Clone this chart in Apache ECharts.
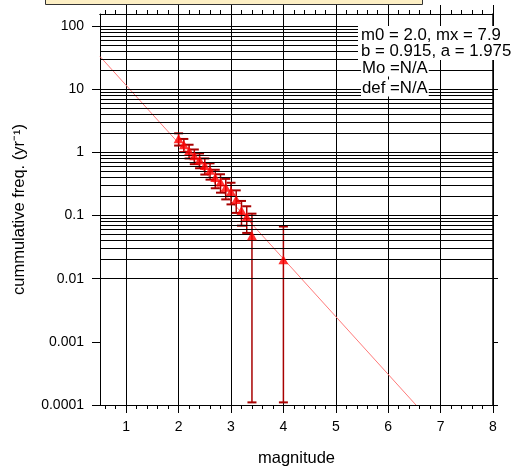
<!DOCTYPE html>
<html>
<head>
<meta charset="utf-8">
<script src="https://cdn.jsdelivr.net/npm/echarts@6/dist/echarts.min.js"></script>
<style>
  html, body { margin: 0; padding: 0; background: #fff; }
  #chart { width: 514px; height: 468px; }
</style>
</head>
<body>
<div id="chart"></div>
<script>
// Gutenberg-Richter cumulative frequency plot
const magnitudes = [2.0, 2.1, 2.2, 2.3, 2.4, 2.5, 2.6, 2.7, 2.8, 2.9, 3.0, 3.1, 3.2, 3.3, 3.4, 4.0];
const cumFreq    = [1.64, 1.32, 1.06, 0.88, 0.76, 0.62, 0.52, 0.40, 0.34, 0.28, 0.24, 0.18, 0.12, 0.096, 0.048, 0.02];
const errLow     = [1.28, 1.01, 0.80, 0.65, 0.56, 0.445, 0.37, 0.27, 0.23, 0.18, 0.15, 0.11, 0.069, 0.053, 0.00011, 0.00011];
const errHigh    = [2.00, 1.63, 1.32, 1.11, 0.96, 0.80, 0.67, 0.53, 0.45, 0.38, 0.33, 0.25, 0.17, 0.14, 0.107, 0.067];

// fit parameters (log10 N = a - b M)
const bValue = 0.915;
const aValue = 1.975;
const legendLines = ['m0 = 2.0, mx = 7.9', 'b = 0.915, a = 1.975', 'Mo =N/A', 'def =N/A'];

const xTicks = [1, 2, 3, 4, 5, 6, 7, 8];
const yTicks = [0.0001, 0.001, 0.01, 0.1, 1, 10, 100];
const yTickLabels = ['0.0001', '0.001', '0.01', '0.1', '1', '10', '100'];

const X_MIN = 0.5, X_MAX = 8;
const Y_MIN = 0.0001, Y_MAX = 155;

// minor x ticks every 0.2 between the labelled ones
const xMinorTicks = [];
for (let i = 3; i <= 39; i++) {
  const v = +(i * 0.2).toFixed(1);
  if (v > X_MIN && v < X_MAX && Math.abs(v - Math.round(v)) > 1e-9) xMinorTicks.push(v);
}

// log grid lines: 1..9 x each decade
const gridValues = [];
for (let k = -4; k <= 1; k++) {
  for (let j = 1; j <= 9; j++) gridValues.push(+(j * Math.pow(10, k)).toPrecision(3));
}
gridValues.push(100);

const FONT = '"Liberation Sans", Arial, Helvetica, sans-serif';

// fitted line from the stated a and b, clipped at the bottom of the axis
const fitStart = X_MIN;
const fitEnd = (aValue - Math.log10(Y_MIN)) / bValue;
const fitLine = [
  [fitStart, Math.pow(10, aValue - bValue * fitStart)],
  [fitEnd, Math.pow(10, aValue - bValue * fitEnd)]
];

const chart = echarts.init(document.getElementById('chart'), null, { renderer: 'canvas' });

function xAxisDef(position, ticks, len, extra) {
  return Object.assign({
    type: 'value',
    min: X_MIN,
    max: X_MAX,
    interval: 1,
    position: position,
    axisLine: { show: true, onZero: false, lineStyle: { color: '#000', width: 1 } },
    axisTick: { show: true, length: len, customValues: ticks, lineStyle: { color: '#000' } },
    axisLabel: { show: false },
    splitLine: { show: false },
    minorTick: { show: false }
  }, extra || {});
}

const option = {
  animation: false,
  backgroundColor: '#fff',
  grid: { left: 100, top: 14, right: 21, bottom: 63, containLabel: false, outerBoundsMode: 'none' },
  xAxis: [
    xAxisDef('bottom', xTicks, 8, {
      name: 'magnitude',
      nameLocation: 'middle',
      nameGap: 45,
      nameTextStyle: { fontFamily: FONT, fontSize: 16.5, color: '#000' },
      axisLabel: { show: true, customValues: xTicks, margin: 15, fontFamily: FONT, fontSize: 14, color: '#000' },
      splitLine: { show: true, lineStyle: { color: '#000', width: 1 } }
    }),
    xAxisDef('top', xTicks, 9),
    xAxisDef('bottom', xMinorTicks, 4),
    xAxisDef('top', xMinorTicks, 4)
  ],
  yAxis: [
    {
      type: 'log',
      logBase: 10,
      min: Y_MIN,
      max: Y_MAX,
      position: 'left',
      name: 'cummulative freq. (yr\u207B\u00B9)',
      nameLocation: 'middle',
      nameGap: 72,
      nameTextStyle: { fontFamily: FONT, fontSize: 16.5, color: '#000' },
      axisLine: { show: true, onZero: false, lineStyle: { color: '#000', width: 1 } },
      axisTick: { show: true, length: 8, customValues: yTicks, lineStyle: { color: '#000' } },
      axisLabel: {
        show: true, customValues: yTicks, margin: 16, fontFamily: FONT, fontSize: 14, color: '#000',
        formatter: (v) => {
          const i = yTicks.findIndex(t => Math.abs(Math.log10(t) - Math.log10(v)) < 1e-6);
          return i >= 0 ? yTickLabels[i] : '';
        }
      },
      splitLine: { show: false },
      minorTick: { show: false }
    },
    {
      type: 'log',
      logBase: 10,
      min: Y_MIN,
      max: Y_MAX,
      position: 'right',
      axisLine: { show: true, onZero: false, lineStyle: { color: '#000', width: 1.5 } },
      axisTick: { show: true, length: 5, customValues: yTicks, lineStyle: { color: '#000' } },
      axisLabel: { show: false },
      splitLine: { show: false },
      minorTick: { show: false }
    }
  ],
  series: [
    {
      // horizontal log grid
      type: 'line',
      xAxisIndex: 0,
      yAxisIndex: 0,
      data: [],
      silent: true,
      z: 1,
      markLine: {
        silent: true,
        symbol: ['none', 'none'],
        label: { show: false },
        animation: false,
        lineStyle: { color: '#000', width: 1, type: 'solid' },
        data: gridValues.map(v => ({ yAxis: v }))
      }
    },
    {
      // fitted line
      type: 'line',
      xAxisIndex: 0,
      yAxisIndex: 0,
      data: fitLine,
      showSymbol: false,
      symbol: 'none',
      clip: true,
      lineStyle: { color: '#ff7a7a', width: 1 },
      z: 3
    },
    {
      // error bars
      type: 'custom',
      xAxisIndex: 0,
      yAxisIndex: 0,
      data: magnitudes.map((m, i) => [m, errLow[i], errHigh[i]]),
      encode: { x: 0, y: [1, 2] },
      clip: true,
      z: 4,
      renderItem: function (params, api) {
        const m = api.value(0);
        const lo = api.coord([m, api.value(1)]);
        const hi = api.coord([m, api.value(2)]);
        const half = 4.5;
        const style = { stroke: '#a80000', lineWidth: 1.5 };
        const capStyle = { stroke: '#a80000', lineWidth: 2 };
        return {
          type: 'group',
          children: [
            { type: 'line', shape: { x1: lo[0], y1: lo[1], x2: hi[0], y2: hi[1] }, style: style },
            { type: 'line', shape: { x1: lo[0] - half, y1: lo[1], x2: lo[0] + half, y2: lo[1] }, style: capStyle },
            { type: 'line', shape: { x1: hi[0] - half, y1: hi[1], x2: hi[0] + half, y2: hi[1] }, style: capStyle }
          ]
        };
      }
    },
    {
      // observed cumulative rates
      type: 'scatter',
      xAxisIndex: 0,
      yAxisIndex: 0,
      data: magnitudes.map((m, i) => [m, cumFreq[i]]),
      symbol: 'triangle',
      symbolSize: [10, 9],
      itemStyle: { color: '#ff0000' },
      z: 5
    }
  ],
  graphic: [
    {
      type: 'rect',
      z: 100,
      shape: { x: 45.5, y: -10, width: 377, height: 14.5 },
      style: { fill: '#fdefc4', stroke: '#333', lineWidth: 1 }
    },
    {
      type: 'rect',
      z: 100,
      shape: { x: 358, y: 26, width: 160, height: 34 },
      style: { fill: '#fff' }
    },
    {
      type: 'text', z: 101, x: 361, y: 35,
      style: { text: legendLines[0], font: '16.8px ' + FONT, fill: '#000', align: 'left', verticalAlign: 'middle' }
    },
    {
      type: 'text', z: 101, x: 361, y: 51,
      style: { text: legendLines[1], font: '16.8px ' + FONT, fill: '#000', align: 'left', verticalAlign: 'middle' }
    },
    {
      type: 'text', z: 101, x: 361, y: 68,
      style: { text: legendLines[2], font: '16.8px ' + FONT, fill: '#000', align: 'left', verticalAlign: 'middle',
               backgroundColor: '#fff', padding: [0, 1] }
    },
    {
      type: 'text', z: 101, x: 361, y: 88,
      style: { text: legendLines[3], font: '16.8px ' + FONT, fill: '#000', align: 'left', verticalAlign: 'middle',
               backgroundColor: '#fff', padding: [0, 1] }
    }
  ]
};

chart.setOption(option);
</script>
</body>
</html>
